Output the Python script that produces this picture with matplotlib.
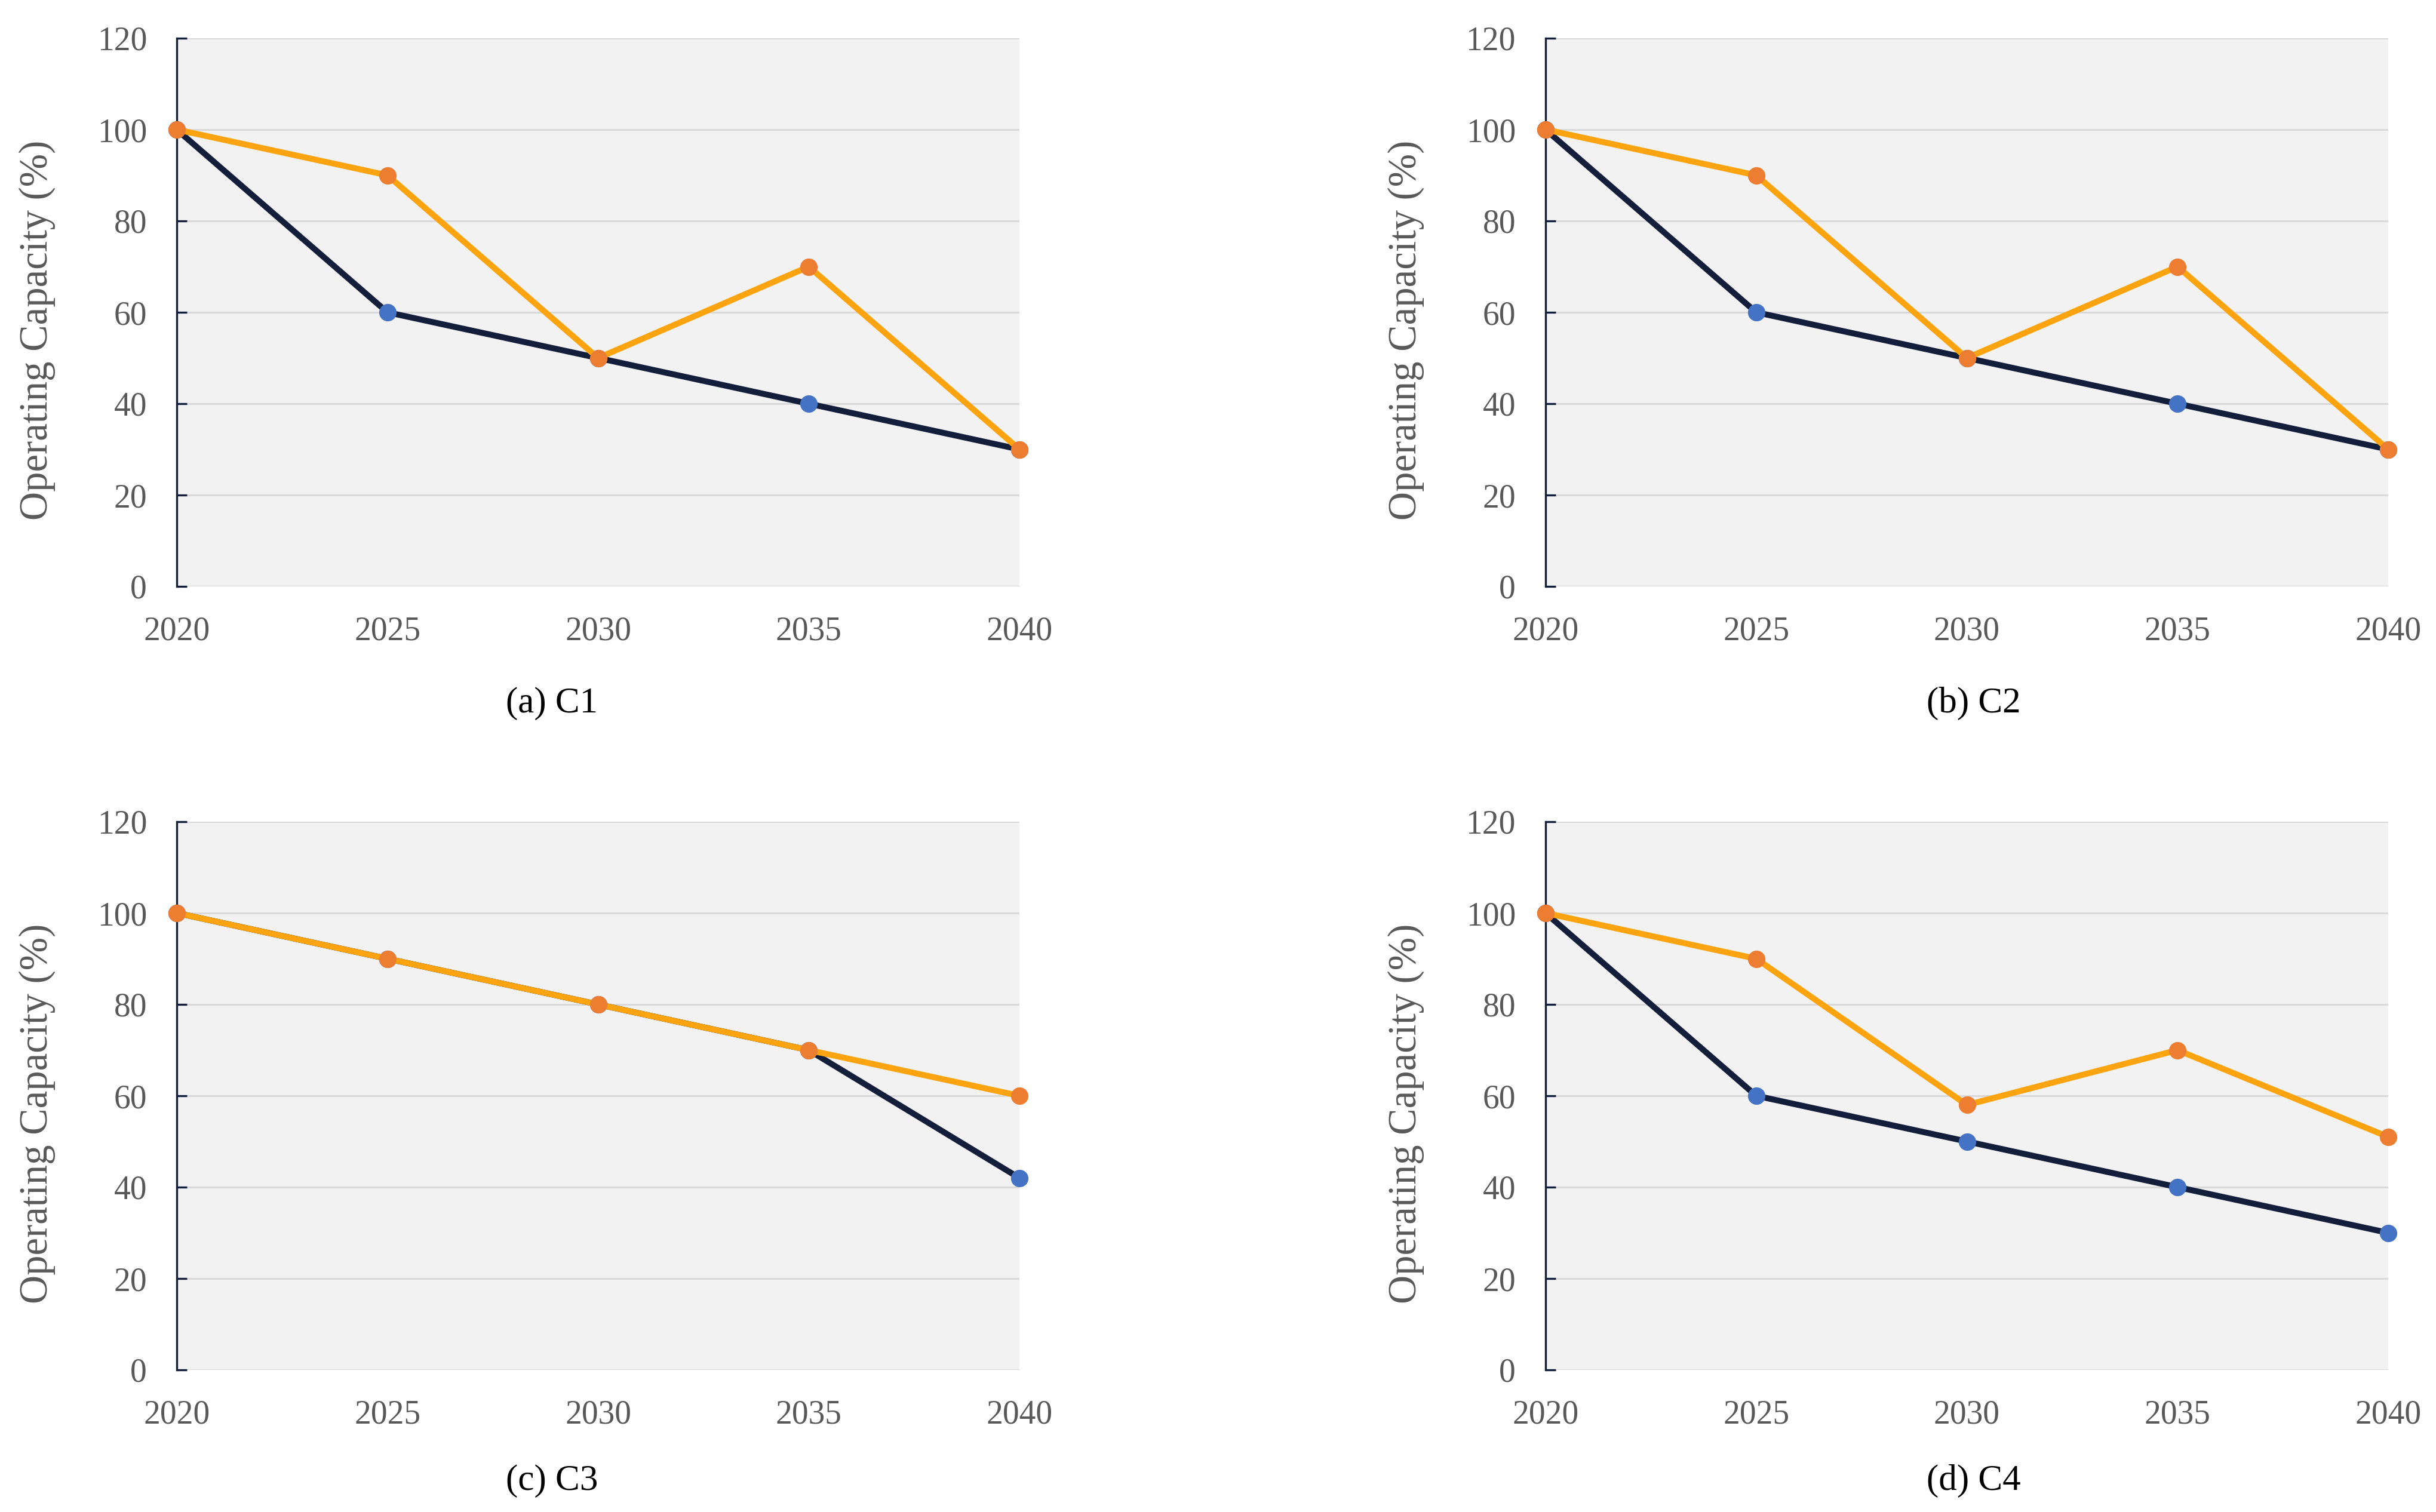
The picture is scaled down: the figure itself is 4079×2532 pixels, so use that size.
import matplotlib
matplotlib.use("Agg")
import matplotlib.pyplot as plt

plt.rcParams["font.family"] = ["Liberation Serif", "DejaVu Serif"]

NAVY = "#131E3A"
ORANGE_LINE = "#FBA40F"
ORANGE_DOT = "#ED7D31"
BLUE_DOT = "#4472C4"
GRID = "#D9D9D9"
PANEL_BG = "#F2F2F2"
TEXT_GREY = "#595959"

years = [2020, 2025, 2030, 2035, 2040]
yticks = [0, 20, 40, 60, 80, 100, 120]

c1_navy = [100, 60, 50, 40, 30]
c1_orange = [100, 90, 50, 70, 30]
c2_navy = [100, 60, 50, 40, 30]
c2_orange = [100, 90, 50, 70, 30]
c3_navy = [100, 90, 80, 70, 42]
c3_orange = [100, 90, 80, 70, 60]
c4_navy = [100, 60, 50, 40, 30]
c4_orange = [100, 90, 58, 70, 51]

captions = ["(a) C1", "(b) C2", "(c) C3", "(d) C4"]

W, H = 4080, 2532
fig = plt.figure(figsize=(W / 100, H / 100), dpi=100)

# axes boxes in pixels: left, top(120), right, bottom(0)
boxes = [(296, 64, 1707, 982), (2588, 64, 3999, 982),
         (296, 1376, 1707, 2294), (2588, 1376, 3999, 2294)]
caption_pos = [(924, 1178), (3305, 1178), (924, 2480), (3305, 2480)]
series = [(c1_navy, c1_orange), (c2_navy, c2_orange),
          (c3_navy, c3_orange), (c4_navy, c4_orange)]

for (l, t, r, b), (navy, orange), cap, (cx, cy) in zip(boxes, series, captions, caption_pos):
    ax = fig.add_axes([l / W, 1 - b / H, (r - l) / W, (b - t) / H])
    ax.set_facecolor(PANEL_BG)
    ax.plot(years, navy, color=NAVY, linewidth=7.2, marker="o", markersize=20,
            markerfacecolor=BLUE_DOT, markeredgecolor=BLUE_DOT, clip_on=False, zorder=3)
    ax.plot(years, orange, color=ORANGE_LINE, linewidth=7.2, marker="o", markersize=20,
            markerfacecolor=ORANGE_DOT, markeredgecolor=ORANGE_DOT, clip_on=False, zorder=4)
    ax.set_xlim(2020, 2040)
    ax.set_ylim(0, 120)
    ax.set_xticks(years)
    ax.set_yticks(yticks)
    ax.yaxis.grid(True, color=GRID, linewidth=2.2)
    ax.set_axisbelow(True)
    for s in ["top", "right", "bottom"]:
        ax.spines[s].set_visible(False)
    ax.spines["left"].set_color(NAVY)
    ax.spines["left"].set_linewidth(2.4)
    ax.tick_params(axis="y", direction="in", length=12, width=2.4, color=NAVY,
                   labelsize=40, labelcolor=TEXT_GREY, pad=36)
    ax.tick_params(axis="x", length=0, labelsize=40, labelcolor=TEXT_GREY, pad=36)
    ax.set_ylabel("Operating Capacity (%)", fontsize=48, color=TEXT_GREY)
    ax.yaxis.set_label_coords(-0.144, 0.467)
    fig.text(cx / W, 1 - cy / H, cap, fontsize=44, color="black", ha="center", va="center")

fig.savefig("out.png", dpi=100, facecolor="white")
